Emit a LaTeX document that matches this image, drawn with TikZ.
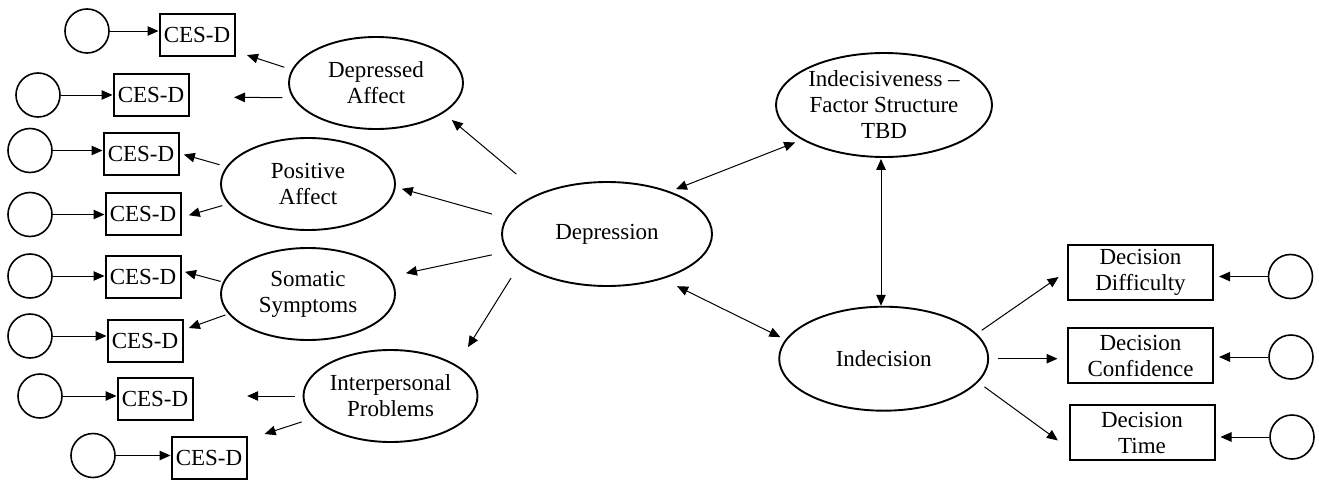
\documentclass[tikz,border=0pt]{standalone}
\usepackage{fontspec}
\setmainfont{Liberation Serif}
\usetikzlibrary{arrows.meta,shapes.geometric,calc}
\begin{document}
\begin{tikzpicture}[x=1pt,y=-1pt,
  >={Triangle[length=11pt,width=9.5pt]},
  every node/.style={font=\fontsize{23}{26}\selectfont},
  lat/.style={ellipse, draw, line width=1.9pt, inner sep=-12pt, minimum width=174pt, minimum height=92pt, align=center},
  obs/.style={rectangle, draw, line width=2pt, inner sep=0pt, minimum width=75pt, minimum height=42pt},
  obsw/.style={rectangle, draw, line width=2pt, inner sep=0pt, minimum width=145pt, minimum height=55pt, align=center},
  err/.style={circle, draw, line width=1.6pt, minimum size=44pt, inner sep=0pt},
  conn/.style={->, line width=1pt},
  biconn/.style={<->, line width=1pt}
]
\useasboundingbox (0,0) rectangle (1319,479);

% latent variables
\node[lat] (da) at (376,83) {Depressed\\Affect};
\node[lat] (pa) at (308,184) {Positive\\Affect};
\node[lat] (ss) at (308,294) {Somatic\\Symptoms};
\node[lat] (ip) at (390.5,396) {Interpersonal\\Problems};
\node[lat, minimum width=210pt, minimum height=104pt] (dep) at (607,234) {Depression};
\node[lat, minimum width=216pt, minimum height=104pt] (ind) at (884,105) {Indecisiveness –\\Factor Structure\\TBD};
\node[lat, minimum width=209pt, minimum height=104pt] (idc) at (883.7,358.7) {Indecision};

% indicators (left)
\node[obs] (b1) at (197,35) {CES-D};
\node[obs] (b2) at (151,95) {CES-D};
\node[obs] (b3) at (141,154) {CES-D};
\node[obs] (b4) at (143,214) {CES-D};
\node[obs] (b5) at (143,277) {CES-D};
\node[obs] (b6) at (145,341) {CES-D};
\node[obs] (b7) at (155,398.5) {CES-D};
\node[obs] (b8) at (209,457.5) {CES-D};

% indicators (right)
\node[obsw] (r1) at (1140.5,272.5) {Decision\\Difficulty};
\node[obsw] (r2) at (1140.5,355.5) {Decision\\Confidence};
\node[obsw] (r3) at (1142,432.5) {Decision\\Time};

% error terms
\node[err] (c1) at (87,31) {};
\node[err] (c2) at (38,95) {};
\node[err] (c3) at (30,150.5) {};
\node[err] (c4) at (30,214.5) {};
\node[err] (c5) at (30,276) {};
\node[err] (c6) at (30,336) {};
\node[err] (c7) at (40,396) {};
\node[err] (c8) at (93,455.5) {};
\node[err] (rc1) at (1290.5,276.5) {};
\node[err] (rc2) at (1291,357) {};
\node[err] (rc3) at (1292,437) {};

% error arrows
\foreach \i in {1,...,8} {
  \draw[conn] (c\i.east) -- (c\i.east -| b\i.west);
}
\foreach \i in {1,2,3} {
  \draw[conn, shorten >=5pt] (rc\i.west) -- (rc\i.west -| r\i.east);
}

% loadings
\draw[conn, shorten <=29.9pt, shorten >=10.8pt] (dep.149.1) -- (da.-24.7);
\draw[conn, shorten <=7.7pt, shorten >=12.1pt] (da.171.4) -- (b1.-23.4);
\draw[conn, shorten <=10.1pt, shorten >=44.5pt] (da.-170.4) -- (b2.-3);
\draw[conn, shorten <=14.5pt, shorten >=6.3pt] (dep.171.6) -- (pa.-2.5);
\draw[conn, shorten <=7pt, shorten >=4.5pt] (pa.168.4) -- (b3.1.4);
\draw[conn, shorten <=6.4pt, shorten >=7.6pt] (pa.-166.1) -- (b4.-5.1);
\draw[conn, shorten <=15.7pt, shorten >=16.6pt] (dep.-170.6) -- (ss.12.9);
\draw[conn, shorten <=2.4pt, shorten >=3.6pt] (ss.172.8) -- (b5.9.7);
\draw[conn, shorten <=3.1pt, shorten >=5.7pt] (ss.-166.3) -- (b6.16.8);
\draw[conn, shorten <=16.5pt, shorten >=21.2pt] (dep.-161.5) -- (ip.25.9);
\draw[conn, shorten <=7.5pt, shorten >=53.7pt] (ip.west) -- (ip.west -| b7.east);
\draw[conn, shorten <=11.9pt, shorten >=18pt] (ip.-164.7) -- (b8.25);

% correlations
\draw[biconn, shorten <=6.3pt, shorten >=7.3pt] (dep.34.9) -- (ind.-157.2);
\draw[biconn, shorten <=1pt] ([xshift=-3pt]ind.south) -- ([xshift=-3pt]ind.south |- idc.north);
\draw[biconn, shorten <=16.1pt, shorten >=5.6pt] (dep.-39.8) -- (idc.169.8);

% indecision loadings
\draw[conn, shorten <=6.1pt, shorten >=10.2pt] (idc.15.5) -- (r1.179.4);
\draw[conn, shorten <=9pt, shorten >=9.5pt] (idc.east) -- (idc.east -| r2.west);
\draw[conn, shorten <=7.8pt, shorten >=13.1pt] (idc.-14.5) -- (r3.-168.4);
\end{tikzpicture}
\end{document}
